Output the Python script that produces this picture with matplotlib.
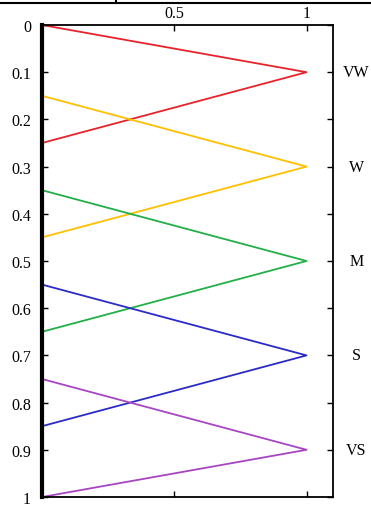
import numpy as np
import matplotlib
matplotlib.use("Agg")
import matplotlib.pyplot as plt

plt.rcParams['font.family'] = ['Liberation Serif', 'DejaVu Serif']

# membership triangles: (start, peak, end) on the y axis, peak at x = 1
labels = ['VW', 'W', 'M', 'S', 'VS']
starts = [0.0, 0.15, 0.35, 0.55, 0.75]
peaks = [0.1, 0.3, 0.5, 0.7, 0.9]
ends = [0.25, 0.45, 0.65, 0.85, 1.0]
colors = ['#E8232B', '#FFC000', '#22AF48', '#2B2BC8', '#A845C2']

left_ticks = np.round(np.arange(0, 1.01, 0.1), 1)
left_ticklabels = ['0', '0.1', '0.2', '0.3', '0.4', '0.5', '0.6', '0.7', '0.8', '0.9', '1']
top_ticks = [0.5, 1]
top_ticklabels = ['0.5', '1']

fig = plt.figure(figsize=(3.71, 5.06), dpi=100)
ax = fig.add_axes([42 / 371, 8 / 506, 291 / 371, 472 / 506])

for s, p, e, c in zip(starts, peaks, ends, colors):
    ax.plot([0, 1, 0], [s, p, e], color=c, lw=1.3)

ax.set_xlim(0, 1.1)
ax.set_ylim(1, 0)
ax.xaxis.tick_top()
ax.set_xticks(top_ticks)
ax.set_xticklabels(top_ticklabels, fontsize=11.5)
ax.set_yticks(left_ticks)
ax.set_yticklabels(left_ticklabels, fontsize=11.5)
ax.tick_params(axis='both', direction='in', length=4, width=1, pad=8)
ax.tick_params(axis='x', pad=3)
ax.tick_params(bottom=True, right=True)

for side in ['top', 'bottom', 'right']:
    ax.spines[side].set_linewidth(1.3)
ax.spines['left'].set_linewidth(3)

# category names at the right, next to each peak
for p, lab in zip(peaks, labels):
    ax.text(1.08, p, lab, transform=ax.get_yaxis_transform(), ha='center',
            va='center', fontsize=11.5, clip_on=False)

# table border fragment at top of the crop
fig.add_artist(plt.Line2D([0, 1], [1 - 3.5 / 506] * 2, transform=fig.transFigure,
                          color='black', lw=1.5))
fig.add_artist(plt.Line2D([116 / 371] * 2, [1 - 3.5 / 506, 1], transform=fig.transFigure,
                          color='black', lw=1.5))

fig.savefig('out.png', dpi=100)
